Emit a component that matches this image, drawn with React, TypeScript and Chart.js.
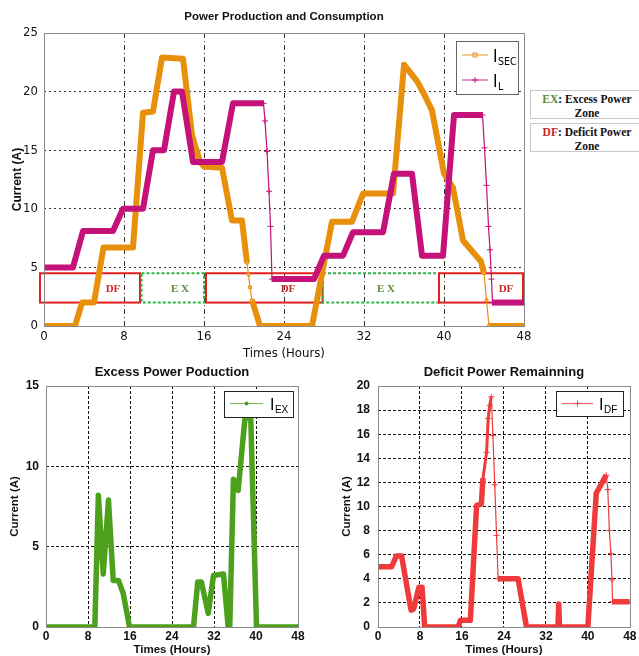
import { useEffect, useRef } from "react";
import { Chart, registerables } from "chart.js";

Chart.register(...registerables);

// ---------------- data ----------------
const hourTicks = [0, 8, 16, 24, 32, 40, 48];
const ampTicksTop = [0, 5, 10, 15, 20, 25];
const ampTicksEx = [0, 5, 10, 15];
const ampTicksDf = [0, 2, 4, 6, 8, 10, 12, 14, 16, 18, 20];

// I_SEC (orange)
const secHours = [0, 3.1, 3.8, 5.0, 5.95, 8.9, 9.9, 10.9, 11.8, 13.9, 14.8, 15.6, 16.0, 17.8, 18.8, 19.8, 20.3, 20.45, 20.6, 20.8, 21.6, 26.8, 28.8, 30.8, 31.9, 34.9, 36.0, 37.3, 38.0, 38.8, 40.0, 40.9, 41.9, 43.7, 44.0, 44.25, 44.5, 48];
const secAmps = [0, 0, 2.0, 2.0, 6.7, 6.7, 18.2, 18.3, 22.9, 22.8, 16.3, 14.0, 13.6, 13.5, 9.0, 9.0, 5.4, 4.4, 3.3, 2.2, 0, 0, 8.9, 8.9, 11.3, 11.3, 22.3, 20.9, 19.8, 18.4, 13.0, 11.8, 7.3, 5.5, 4.5, 2.2, 0, 0];

// I_L (magenta)
const loadHours = [0, 2.9, 3.9, 6.9, 7.9, 9.9, 10.9, 12.0, 13.0, 13.8, 14.9, 17.8, 18.9, 21.95, 22.1, 22.3, 22.5, 22.65, 22.8, 27.0, 28.0, 29.9, 30.9, 33.9, 35.0, 36.8, 37.8, 39.9, 41.0, 43.85, 44.05, 44.25, 44.45, 44.6, 44.75, 44.85, 48];
const loadAmps = [5, 5, 8.1, 8.1, 10, 10, 15, 15, 20, 20, 14, 14, 19, 19, 17.5, 14.9, 11.5, 8.5, 4, 4, 6, 6, 8, 8, 13, 13, 6, 6, 18, 18, 15.2, 12, 8.5, 6.5, 4, 2, 2];

// zones
const zoneKinds = ["DF", "EX", "DF", "EX", "DF"];
const zoneFrom = [-0.4, 9.75, 16.2, 27.9, 39.5];
const zoneTo = [9.6, 16.0, 27.85, 39.5, 47.9];
const zoneLabelAt = [6.9, 13.6, 24.4, 34.2, 46.2];
const zoneLow = 2.0;
const zoneHigh = 4.5;

// I_EX (green)
const exHours = [0, 9.3, 9.97, 10.9, 11.9, 12.8, 13.8, 14.7, 15.4, 15.9, 28.1, 28.9, 29.6, 30.9, 31.9, 33.8, 34.3, 34.7, 35.0, 35.7, 36.6, 37.9, 39.0, 40.1, 48];
const exAmps = [0, 0, 8.2, 3.3, 7.9, 2.9, 2.9, 2.1, 0.9, 0, 0, 2.8, 2.8, 0.85, 3.2, 3.3, 1.5, 0, 0, 9.2, 8.5, 13.0, 13.0, 0, 0];

// I_DF (red)
const dfHours = [0, 2.6, 3.5, 4.5, 6.3, 6.8, 7.8, 8.4, 8.9, 15.3, 15.7, 17.6, 18.8, 19.7, 20.0, 20.7, 21.0, 21.3, 21.6, 21.9, 22.25, 22.6, 22.9, 26.7, 28.3, 34.3, 34.45, 34.6, 40.0, 41.6, 43.5, 43.8, 44.1, 44.4, 44.6, 44.7, 48];
const dfAmps = [5, 5, 5.9, 5.9, 1.4, 1.5, 3.3, 3.3, 0, 0, 0.55, 0.55, 10.1, 10.2, 12.3, 14.5, 17.3, 18.4, 19.1, 15.9, 11.8, 7.6, 4.0, 4.0, 0, 0, 1.9, 0, 0, 11.1, 12.6, 11.4, 8.0, 6.1, 3.9, 2.1, 2.1];

// ---------------- styles ----------------
const ORANGE = "#E8900C";
const MAGENTA = "#C4127A";
const GREEN = "#4CA01C";
const RED = "#EE3A3A";
const SANS = '"Liberation Sans", Arial, sans-serif';
const NARROW = '"Liberation Sans Narrow", "DejaVu Sans Condensed", "Liberation Sans", sans-serif';
const SERIF = '"Liberation Serif", "Times New Roman", serif';
const TOP_W = 6;
const BOTTOM_W = 5.5;

type WRange = [number, number, number];
const SEC_W: WRange[] = [[20.25, 20.85, 1.2], [43.95, 44.55, 1.2]];
const LOAD_W: WRange[] = [[21.9, 22.85, 1.2], [43.8, 44.9, 1.2]];
const DF_W: WRange[] = [[21.55, 22.95, 1.2], [43.45, 44.75, 1.2], [19.95, 21.65, 3]];

const pts = (xs: number[], ys: number[]) => xs.map((x, i) => ({ x, y: ys[i] }));
const segW = (ranges: WRange[], base: number) => (ctx: any) => {
  const a = ctx.p0?.parsed?.x;
  const b = ctx.p1?.parsed?.x;
  if (a == null || b == null) return base;
  for (const r of ranges) if (a >= r[0] && b <= r[1]) return r[2];
  return base;
};
const ptR = (ranges: WRange[], r: number) => (ctx: any) => {
  const x = ctx.parsed?.x;
  if (x == null) return 0;
  return ranges.some((q) => x >= q[0] && x <= q[1]) ? r : 0;
};
const edgeColor = (c: string, lo: number, hi: number) => (ctx: any) =>
  ctx.tick && (ctx.tick.value === lo || ctx.tick.value === hi) ? "rgba(0,0,0,0)" : c;
const setTicks = (vals: number[]) => (axis: any) => {
  axis.ticks = vals.map((v) => ({ value: v }));
};

const framePlugin = (color: string, width: number) => ({
  id: "frame",
  afterDatasetsDraw(chart: any) {
    const { left, top, right, bottom } = chart.chartArea;
    const ctx = chart.ctx;
    ctx.save();
    ctx.strokeStyle = color;
    ctx.lineWidth = width;
    ctx.strokeRect(Math.round(left) + 0.5, Math.round(top) + 0.5, Math.round(right - left), Math.round(bottom - top));
    ctx.restore();
  },
});

const zonePlugin = {
  id: "zones",
  beforeDatasetsDraw(chart: any) {
    const { ctx, scales } = chart;
    const xs = scales.x;
    const ys = scales.y;
    ctx.save();
    zoneKinds.forEach((k, i) => {
      const x0 = xs.getPixelForValue(zoneFrom[i]);
      const x1 = xs.getPixelForValue(zoneTo[i]);
      const y0 = ys.getPixelForValue(zoneHigh);
      const y1 = ys.getPixelForValue(zoneLow);
      ctx.lineWidth = 2;
      if (k === "DF") {
        ctx.setLineDash([]);
        ctx.strokeStyle = "#E41E1E";
      } else {
        ctx.setLineDash([3, 2]);
        ctx.strokeStyle = "#2DB34A";
      }
      ctx.strokeRect(x0, y0, x1 - x0, y1 - y0);
      ctx.setLineDash([]);
      ctx.font = `bold 11px ${SERIF}`;
      ctx.textAlign = "center";
      ctx.textBaseline = "middle";
      ctx.fillStyle = k === "DF" ? "#C62828" : "#5A8A3A";
      ctx.fillText(k === "DF" ? "DF" : "E X", xs.getPixelForValue(zoneLabelAt[i]), (y0 + y1) / 2 + 1);
    });
    ctx.restore();
  },
};

type LegItem = { color: string; marker: "rect" | "cross" | "dot"; sub: string };
type LegOpts = {
  x: number; y: number; w: number; h: number;
  row0: number; gap: number; lx0: number; lx1: number; tx: number;
  font: string; subFont: string; base: number; subBase: number; border: string;
};
const legendPlugin = (items: LegItem[], o: LegOpts) => ({
  id: "customLegend",
  afterDraw(chart: any) {
    const ctx = chart.ctx;
    ctx.save();
    ctx.fillStyle = "#fff";
    ctx.fillRect(o.x, o.y, o.w, o.h);
    ctx.strokeStyle = o.border;
    ctx.lineWidth = 1;
    ctx.strokeRect(o.x + 0.5, o.y + 0.5, o.w, o.h);
    items.forEach((it, i) => {
      const cy = o.y + o.row0 + i * o.gap;
      ctx.strokeStyle = it.color;
      ctx.globalAlpha = 0.75;
      ctx.lineWidth = 1.2;
      ctx.beginPath();
      ctx.moveTo(o.x + o.lx0, cy);
      ctx.lineTo(o.x + o.lx1, cy);
      ctx.stroke();
      ctx.globalAlpha = 1;
      const mx = o.x + (o.lx0 + o.lx1) / 2;
      ctx.lineWidth = 1;
      if (it.marker === "rect") {
        ctx.strokeRect(mx - 2, cy - 2, 4, 4);
      } else if (it.marker === "cross") {
        ctx.beginPath();
        ctx.moveTo(mx - 3, cy);
        ctx.lineTo(mx + 3, cy);
        ctx.moveTo(mx, cy - 3);
        ctx.lineTo(mx, cy + 3);
        ctx.stroke();
      } else {
        ctx.fillStyle = it.color;
        ctx.beginPath();
        ctx.arc(mx, cy, 2, 0, Math.PI * 2);
        ctx.fill();
      }
      ctx.fillStyle = "#000";
      ctx.textAlign = "left";
      ctx.textBaseline = "alphabetic";
      ctx.font = o.font;
      const tx = o.x + o.tx;
      ctx.fillText("I", tx, cy + o.base);
      const iw = ctx.measureText("I").width;
      ctx.font = o.subFont;
      ctx.fillText(it.sub, tx + iw + 0.5, cy + o.subBase);
    });
    ctx.restore();
  },
});

// ---------------- configs ----------------
function topConfig(): any {
  const hGrid = { color: edgeColor("#333", 0, 25), lineWidth: 1, drawTicks: false };
  const vGrid = { color: edgeColor("#333", 0, 48), lineWidth: 1, drawTicks: false };
  return {
    type: "line",
    data: {
      datasets: [
        {
          label: "I_L",
          data: pts(loadHours, loadAmps),
          borderColor: MAGENTA,
          backgroundColor: MAGENTA,
          borderWidth: TOP_W,
          borderJoinStyle: "round",
          order: 0,
          segment: { borderWidth: segW(LOAD_W, TOP_W) },
          pointStyle: "cross",
          pointRadius: ptR(LOAD_W, 3),
          pointBorderWidth: 1,
          pointBorderColor: MAGENTA,
        },
        {
          label: "I_SEC",
          data: pts(secHours, secAmps),
          borderColor: ORANGE,
          backgroundColor: "#F2B860",
          borderWidth: TOP_W,
          borderJoinStyle: "round",
          order: 1,
          segment: { borderWidth: segW(SEC_W, TOP_W) },
          pointStyle: "rect",
          pointRadius: ptR(SEC_W, 2),
          pointBorderWidth: 1,
          pointBorderColor: ORANGE,
        },
      ],
    },
    options: {
      animation: false,
      responsive: false,
      layout: { padding: { left: 0, right: 12, top: 0, bottom: 0 } },
      plugins: {
        legend: { display: false },
        tooltip: { enabled: false },
        title: {
          display: true,
          fullSize: false,
          text: "Power Production and Consumption",
          color: "#111",
          font: { family: SANS, size: 11.5, weight: "bold", lineHeight: 1.2 },
          padding: { top: 10, bottom: 9.2 },
        },
      },
      scales: {
        x: {
          type: "linear",
          min: 0,
          max: 48,
          afterBuildTicks: setTicks(hourTicks),
          afterFit: (a: any) => { a.height = 34; },
          grid: vGrid,
          border: { display: false, dash: [5, 3, 1, 3] },
          ticks: { color: "#111", padding: 3, maxRotation: 0, font: { family: NARROW, size: 13 } },
          title: {
            display: true,
            text: "Times (Hours)",
            color: "#111",
            font: { family: NARROW, size: 13, lineHeight: 1 },
            padding: { top: 0, bottom: 0 },
          },
        },
        y: {
          type: "linear",
          min: 0,
          max: 25,
          afterBuildTicks: setTicks(ampTicksTop),
          afterFit: (a: any) => { a.width = 44; },
          grid: hGrid,
          border: { display: false, dash: [2, 3] },
          ticks: { color: "#111", padding: 6, font: { family: NARROW, size: 13 } },
          title: {
            display: true,
            text: "Current (A)",
            color: "#111",
            font: { family: SANS, size: 12, weight: "bold", lineHeight: 1.2 },
            padding: { top: 10.8, bottom: 0 },
          },
        },
      },
    },
    plugins: [
      zonePlugin,
      framePlugin("#8a8a8a", 1),
      legendPlugin(
        [
          { color: ORANGE, marker: "rect", sub: "SEC" },
          { color: MAGENTA, marker: "cross", sub: "L" },
        ],
        {
          x: 456, y: 41, w: 62, h: 53, row0: 14, gap: 25, lx0: 6, lx1: 32, tx: 37,
          font: `17px ${NARROW}`, subFont: `10.5px ${NARROW}`, base: 6.5, subBase: 10, border: "#666",
        }
      ),
    ],
  };
}

function bottomConfig(
  title: string,
  hours: number[],
  amps: number[],
  color: string,
  yTicks: number[],
  yMax: number,
  yAxisWidth: number,
  yTickPad: number,
  yTitlePad: number,
  padRight: number,
  widths: WRange[],
  marker: "cross" | "dot",
  sub: string,
  leg: { x: number; y: number; w: number; h: number; lx0: number; lx1: number; tx: number }
): any {
  const grid = (lo: number, hi: number) => ({
    color: edgeColor("#111", lo, hi),
    lineWidth: 1,
    drawTicks: false,
  });
  return {
    type: "line",
    data: {
      datasets: [
        {
          label: sub,
          data: pts(hours, amps),
          borderColor: color,
          backgroundColor: color,
          borderWidth: BOTTOM_W,
          borderJoinStyle: "round",
          segment: { borderWidth: segW(widths, BOTTOM_W) },
          pointStyle: "cross",
          pointRadius: ptR(widths, 3),
          pointBorderWidth: 1,
          pointBorderColor: color,
        },
      ],
    },
    options: {
      animation: false,
      responsive: false,
      layout: { padding: { left: 0, right: padRight, top: 0, bottom: 0 } },
      plugins: {
        legend: { display: false },
        tooltip: { enabled: false },
        title: {
          display: true,
          fullSize: false,
          text: title,
          color: "#111",
          font: { family: SANS, size: 13, weight: "bold", lineHeight: 1.2 },
          padding: { top: 2.2, bottom: 6.2 },
        },
      },
      scales: {
        x: {
          type: "linear",
          min: 0,
          max: 48,
          afterBuildTicks: setTicks(hourTicks),
          afterFit: (a: any) => { a.height = 29; },
          grid: grid(0, 48),
          border: { display: false, dash: [3, 2] },
          ticks: { color: "#111", padding: 2.5, maxRotation: 0, font: { family: SANS, size: 12, weight: "bold" } },
          title: {
            display: true,
            text: "Times (Hours)",
            color: "#111",
            font: { family: SANS, size: 11.5, weight: "bold", lineHeight: 1 },
            padding: { top: 0, bottom: 0 },
          },
        },
        y: {
          type: "linear",
          min: 0,
          max: yMax,
          afterBuildTicks: setTicks(yTicks),
          afterFit: (a: any) => { a.width = yAxisWidth; },
          grid: grid(0, yMax),
          border: { display: false, dash: [3, 2] },
          ticks: { color: "#111", padding: yTickPad, font: { family: SANS, size: 12, weight: "bold" } },
          title: {
            display: true,
            text: "Current (A)",
            color: "#111",
            font: { family: SANS, size: 11.5, weight: "bold", lineHeight: 1.2 },
            padding: { top: yTitlePad, bottom: 0 },
          },
        },
      },
    },
    plugins: [
      framePlugin("#8a8a8a", 1),
      legendPlugin([{ color, marker, sub }], {
        x: leg.x, y: leg.y, w: leg.w, h: leg.h, row0: 12.5, gap: 0, lx0: leg.lx0, lx1: leg.lx1, tx: leg.tx,
        font: `16px ${SANS}`, subFont: `10px ${SANS}`, base: 6, subBase: 9, border: "#222",
      }),
    ],
  };
}

export default function App() {
  const topRef = useRef<HTMLCanvasElement>(null);
  const exRef = useRef<HTMLCanvasElement>(null);
  const dfRef = useRef<HTMLCanvasElement>(null);

  useEffect(() => {
    const charts = [
      new Chart(topRef.current as HTMLCanvasElement, topConfig()),
      new Chart(
        exRef.current as HTMLCanvasElement,
        bottomConfig("Excess Power Poduction", exHours, exAmps, GREEN, ampTicksEx, 15, 46, 7, 8.1, 12, [], "dot", "EX",
          { x: 224, y: 29, w: 69, h: 26, lx0: 6, lx1: 39, tx: 46 })
      ),
      new Chart(
        dfRef.current as HTMLCanvasElement,
        bottomConfig("Deficit Power Remainning", dfHours, dfAmps, RED, ampTicksDf, 20, 58, 8, 20.1, 9, DF_W, "cross", "DF",
          { x: 236, y: 29, w: 67, h: 25, lx0: 6, lx1: 37, tx: 43 })
      ),
    ];
    return () => charts.forEach((c) => c.destroy());
  }, []);

  const noteBox: React.CSSProperties = {
    position: "absolute",
    left: 530,
    width: 114,
    border: "1px solid #c8c8c8",
    boxSizing: "border-box",
    background: "#fff",
    fontFamily: SERIF,
    fontWeight: "bold",
    fontSize: 11.5,
    lineHeight: "14px",
    textAlign: "center",
    color: "#111",
    paddingTop: 1,
  };

  return (
    <div style={{ position: "fixed", left: 0, top: 0, width: 639, height: 656, background: "#fff", overflow: "hidden" }}>
      <canvas ref={topRef} width={536} height={360} style={{ position: "absolute", left: 0, top: 0, width: 536, height: 360 }} />
      <canvas ref={exRef} width={310} height={294} style={{ position: "absolute", left: 0, top: 362, width: 310, height: 294 }} />
      <canvas ref={dfRef} width={319} height={294} style={{ position: "absolute", left: 320, top: 362, width: 319, height: 294 }} />
      <div style={{ ...noteBox, top: 90, height: 29 }}>
        <span style={{ color: "#5A8A3A" }}>EX</span>: Excess Power
        <br />
        Zone
      </div>
      <div style={{ ...noteBox, top: 123, height: 29 }}>
        <span style={{ color: "#C62828" }}>DF</span>: Deficit Power
        <br />
        Zone
      </div>
    </div>
  );
}
